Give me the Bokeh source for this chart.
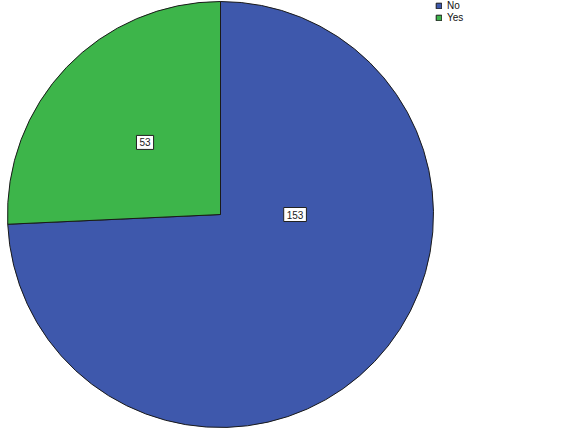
import math
from bokeh.plotting import figure
from bokeh.models import ColumnDataSource, Range1d, Label, Legend, LegendItem
from bokeh.embed import file_html
from bokeh.resources import INLINE

# data
categories = ["No", "Yes"]
counts = [153, 53]
colors = ["#3E58AC", "#3DB54A"]

W, H = 572, 428
p = figure(width=W, height=H, output_backend="svg", toolbar_location=None,
           x_range=Range1d(0, W), y_range=Range1d(0, H), min_border=0,
           background_fill_color="white", border_fill_color="white")
p.axis.visible = False
p.grid.visible = False
p.outline_line_color = None

cx, cy, r = 220, H - 214, 213
total = sum(counts)
starts, ends = [], []
acc = 0.0
for c in counts:
    a0 = math.pi / 2 - 2 * math.pi * acc / total
    acc += c
    a1 = math.pi / 2 - 2 * math.pi * acc / total
    starts.append(a0)
    ends.append(a1)

src = ColumnDataSource(dict(start=starts, end=ends, color=colors, label=categories))
wr = p.wedge(x=cx, y=cy, radius=r, start_angle="start", end_angle="end",
             direction="clock", fill_color="color", line_color="#1a1a1a",
             line_width=1, source=src)

legend = Legend(items=[LegendItem(label=categories[i], renderers=[wr], index=i)
                       for i in range(len(categories))],
                location=(435, 405), orientation="vertical",
                glyph_width=7, glyph_height=7, label_text_font="Liberation Sans",
                label_text_font_size="10px", label_text_color="#111111",
                label_height=9, label_standoff=5,
                spacing=1, padding=0, margin=0, border_line_color=None,
                background_fill_alpha=0)
p.add_layout(legend)

# value labels: placed along a direction from the centre, at a fraction of the radius
label_dirs = [0.0, (starts[1] + ends[1]) / 2]
label_fracs = [0.35, 0.49]
for i, c in enumerate(counts):
    ang = label_dirs[i]
    lx = cx + label_fracs[i] * r * math.cos(ang)
    ly = cy + label_fracs[i] * r * math.sin(ang)
    p.add_layout(Label(x=lx, y=ly, text=str(c), text_align="center",
                       text_baseline="middle", text_font="Liberation Sans",
                       text_font_size="10px", text_color="#222222",
                       background_fill_color="white", border_line_color="#222222",
                       border_line_width=1, padding=3))

open("out.html", "w").write(file_html(p, INLINE))
